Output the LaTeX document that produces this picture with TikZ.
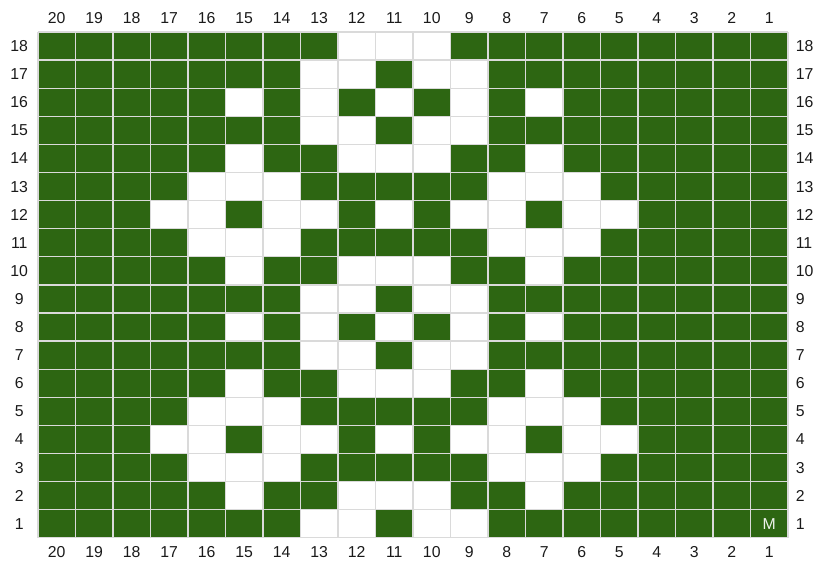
\documentclass[tikz,border=0pt]{standalone}
\usepackage{fontspec}
\setmainfont{Liberation Sans}
\usepackage{tikz}
\usetikzlibrary{positioning}
\usepackage{xcolor}
\definecolor{ChartGreen}{HTML}{2D6612}
\definecolor{ChartWhite}{HTML}{FFFFFF}
\definecolor{ChartGrid}{HTML}{DADADA}
\definecolor{ChartText}{HTML}{1A1A1A}
\tikzset{
    % Cell styles
    greencell/.style={fill=ChartGreen},
    whitecell/.style={fill=ChartWhite},
    % Grid lines
    gridline/.style={draw=ChartGrid, line width=1.1pt},
    % Number labels
    numlabel/.style={
        font=\fontsize{13.5}{16}\selectfont,
        text=ChartText,
        inner sep=0pt
    },
    marklabel/.style={
        font=\fontsize{13.5}{16}\selectfont,
        text=ChartWhite!92!ChartGreen,
        inner sep=0pt
    }
}

\begin{document}
\begin{tikzpicture}[x=1.125cm, y=0.843cm]
    \useasboundingbox (-1.013,-0.961) rectangle (20.693,19.139);

    % Green ground
    \fill[greencell] (0,0) rectangle (20,18);

    % White stitches: row/columns
    \foreach \r/\cols in {18/{12,11,10}, 17/{13,12,10,9}, 16/{15,13,11,9,7},
        15/{13,12,10,9}, 14/{15,12,11,10,7}, 13/{16,15,14,8,7,6},
        12/{17,16,14,13,11,9,8,6,5}, 11/{16,15,14,8,7,6}, 10/{15,12,11,10,7},
        9/{13,12,10,9}, 8/{15,13,11,9,7}, 7/{13,12,10,9},
        6/{15,12,11,10,7}, 5/{16,15,14,8,7,6}, 4/{17,16,14,13,11,9,8,6,5},
        3/{16,15,14,8,7,6}, 2/{15,12,11,10,7}, 1/{13,12,10,9}} {
        \foreach \c in \cols {
            \fill[whitecell] (20-\c,\r-1) rectangle (21-\c,\r);
        }
    }

    % Grid
    \foreach \x in {0,...,20} {
        \draw[gridline] (\x,0) -- (\x,18);
    }
    \foreach \y in {0,...,18} {
        \draw[gridline] (0,\y) -- (20,\y);
    }

    % Column numbers
    \foreach \c in {1,...,20} {
        \node[numlabel] (top\c) at (20.5-\c,18.5) {\c};
        \node[numlabel] (bot\c) at (20.5-\c,-0.5) {\c};
    }

    % Row numbers
    \foreach \r in {1,...,18} {
        \node[numlabel] (left\r) at (-0.5,\r-0.5) {\r};
        \node[numlabel, anchor=west] (right\r) at (20.2,\r-0.5) {\r};
    }

    % Marker
    \node[marklabel] (mark) at (19.5,0.5) {M};
\end{tikzpicture}
\end{document}
